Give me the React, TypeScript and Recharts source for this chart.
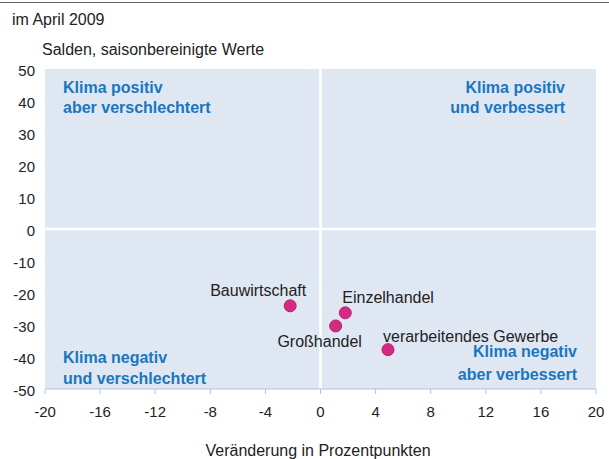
import React from 'react';
import {
  ScatterChart,
  Scatter,
  XAxis,
  YAxis,
  ReferenceArea,
  ReferenceLine,
} from 'recharts';

const sectors = ['Bauwirtschaft', 'Einzelhandel', 'Großhandel', 'verarbeitendes Gewerbe'];
const changeValues = [-2.2, 1.8, 1.1, 4.9];
const balanceValues = [-24.0, -26.2, -30.3, -37.7];

const xTicks = [-20, -16, -12, -8, -4, 0, 4, 8, 12, 16, 20];
const yTicks = [-50, -40, -30, -20, -10, 0, 10, 20, 30, 40, 50];

const quadrantTopLeft = ['Klima positiv', 'aber verschlechtert'];
const quadrantTopRight = ['Klima positiv', 'und verbessert'];
const quadrantBottomLeft = ['Klima negativ', 'und verschlechtert'];
const quadrantBottomRight = ['Klima negativ', 'aber verbessert'];

const chartData = sectors.map((name, i) => ({ name, x: changeValues[i], y: balanceValues[i] }));

// label offsets relative to the dot
const labelPlacement: Record<string, { dx: number; dy: number; anchor: 'start' | 'middle' | 'end' }> = {
  Bauwirtschaft: { dx: -32, dy: -10, anchor: 'middle' },
  Einzelhandel: { dx: -3, dy: -10, anchor: 'start' },
  Großhandel: { dx: -16, dy: 21, anchor: 'middle' },
  'verarbeitendes Gewerbe': { dx: -5, dy: -8, anchor: 'start' },
};

const FONT = '"Liberation Sans", Arial, sans-serif';
const BG = '#dfe7f3';
const BLUE = '#1a76bd';

function QuadrantLabel(props: any) {
  const { viewBox, lines, align, padX, firstBaseline, gap } = props;
  if (!viewBox) return null;
  const x = align === 'end' ? viewBox.x + viewBox.width - padX : viewBox.x + padX;
  return (
    <text
      x={x}
      y={viewBox.y + firstBaseline}
      textAnchor={align}
      fill={BLUE}
      fontFamily={FONT}
      fontSize={16}
      fontWeight="bold"
    >
      {lines.map((l: string, i: number) => (
        <tspan key={l} x={x} dy={i === 0 ? 0 : gap}>
          {l}
        </tspan>
      ))}
    </text>
  );
}

function Dot(props: any) {
  const { cx, cy, payload } = props;
  const p = labelPlacement[payload.name];
  return (
    <g>
      <circle cx={cx} cy={cy} r={6} fill="#d42a84" stroke="#b8206a" strokeWidth={1} />
      <text
        x={cx + p.dx}
        y={cy + p.dy}
        textAnchor={p.anchor}
        fill="#222"
        fontFamily={FONT}
        fontSize={16}
      >
        {payload.name}
      </text>
    </g>
  );
}

export default function App() {
  const txt = { position: 'absolute' as const, fontSize: 16, lineHeight: '18px', color: '#222', whiteSpace: 'nowrap' as const };
  return (
    <div style={{ position: 'absolute', left: 0, top: 0, width: 609, height: 459, background: '#fff', fontFamily: FONT, overflow: 'hidden' }}>
      <div style={{ position: 'absolute', left: 0, top: 2, width: 609, height: 1, background: '#666' }} />
      <div style={{ ...txt, left: 12, top: 11 }}>im April 2009</div>
      <div style={{ ...txt, left: 42, top: 41 }}>Salden, saisonbereinigte Werte</div>
      <div style={{ ...txt, left: 0, width: 636, top: 442, textAlign: 'center' }}>
        Veränderung in Prozentpunkten
      </div>
      <div style={{ position: 'absolute', left: 0, top: 0 }}>
        <ScatterChart width={609} height={459} margin={{ top: 69, right: 13, bottom: 0, left: 5 }}>
          <XAxis
            type="number"
            dataKey="x"
            domain={[-20, 20]}
            ticks={xTicks}
            interval={0}
            height={70}
            axisLine={{ stroke: '#a9c4e6' }}
            tickLine={{ stroke: '#a9c4e6' }}
            tickSize={5}
            tickMargin={12}
            tick={{ fill: '#222', fontSize: 15, fontFamily: FONT }}
          />
          <YAxis
            type="number"
            dataKey="y"
            domain={[-50, 50]}
            ticks={yTicks}
            interval={0}
            width={40}
            axisLine={false}
            tickLine={false}
            tickSize={6}
            tickMargin={4}
            tick={{ fill: '#222', fontSize: 15, fontFamily: FONT, dy: 2 }}
          />
          <ReferenceArea
            x1={-20}
            x2={0}
            y1={0}
            y2={50}
            fill={BG}
            fillOpacity={1}
            stroke="none"
            label={<QuadrantLabel lines={quadrantTopLeft} align="start" padX={18} firstBaseline={24} gap={20} />}
          />
          <ReferenceArea
            x1={0}
            x2={20}
            y1={0}
            y2={50}
            fill={BG}
            fillOpacity={1}
            stroke="none"
            label={<QuadrantLabel lines={quadrantTopRight} align="end" padX={31} firstBaseline={24} gap={20} />}
          />
          <ReferenceArea
            x1={-20}
            x2={0}
            y1={-50}
            y2={0}
            fill={BG}
            fillOpacity={1}
            stroke="none"
            label={<QuadrantLabel lines={quadrantBottomLeft} align="start" padX={18} firstBaseline={134} gap={21} />}
          />
          <ReferenceArea
            x1={0}
            x2={20}
            y1={-50}
            y2={0}
            fill={BG}
            fillOpacity={1}
            stroke="none"
            label={<QuadrantLabel lines={quadrantBottomRight} align="end" padX={19} firstBaseline={128} gap={23} />}
          />
          <ReferenceLine x={0} stroke="#fff" strokeWidth={2.5} />
          <ReferenceLine y={0} stroke="#fff" strokeWidth={2.5} />
          <Scatter data={chartData} isAnimationActive={false} shape={<Dot />} />
        </ScatterChart>
      </div>
    </div>
  );
}
